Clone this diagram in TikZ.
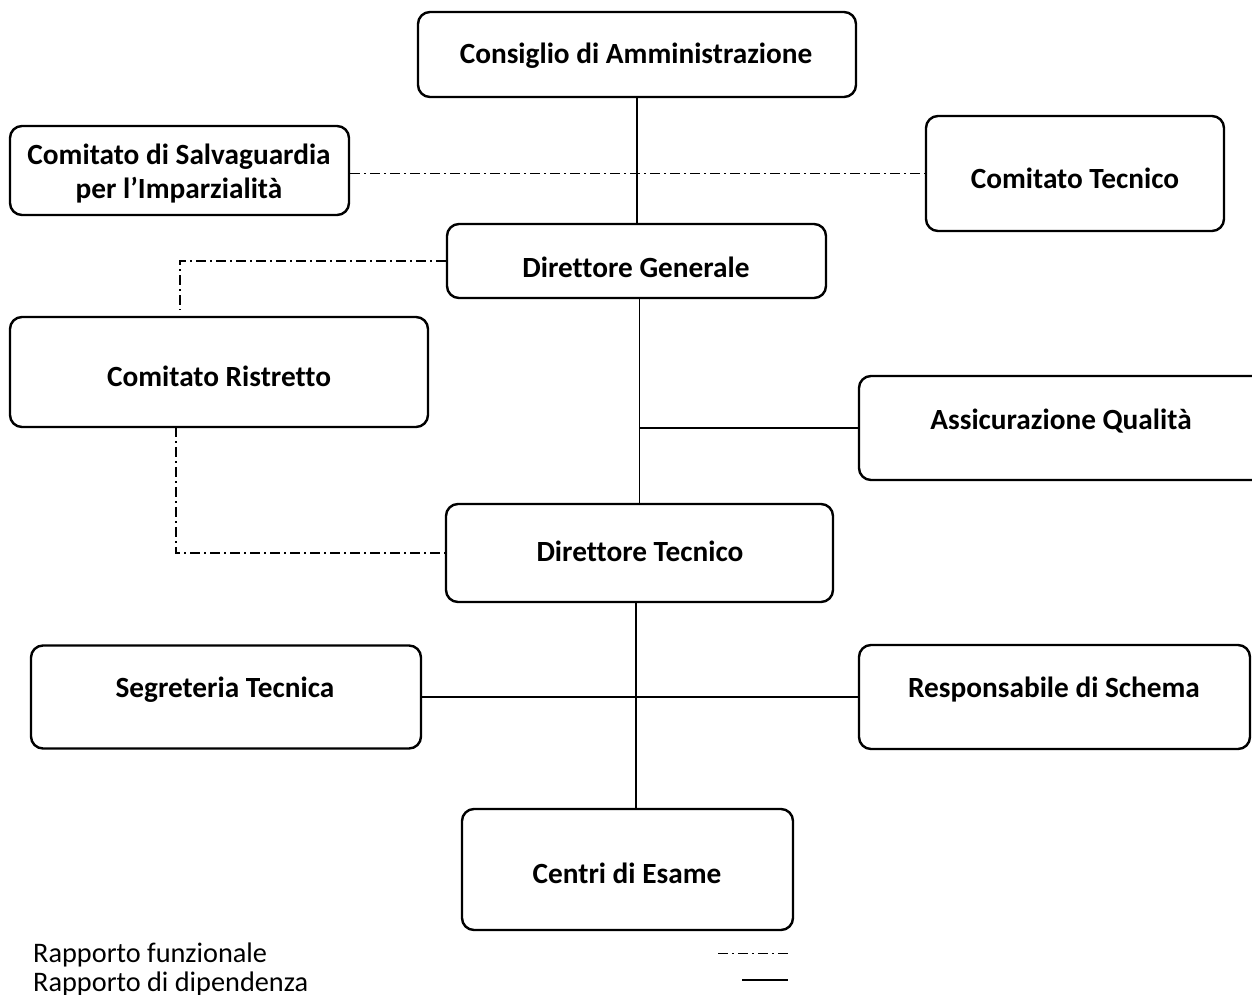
\documentclass[tikz,border=0pt]{standalone}
\usepackage{fontspec}
\setmainfont{Carlito}[Ligatures=NoCommon]
\begin{document}
\begin{tikzpicture}[x=1pt,y=-1pt,
  box/.style={draw=black, line width=2.4pt, rounded corners=12pt, inner sep=0pt, fill=white},
  lbl/.style={font=\fontsize{29.3}{33.5}\selectfont\bfseries, align=center, inner sep=0pt},
  leg/.style={font=\fontsize{28.3}{33}\selectfont, anchor=west, inner sep=0pt},
  dep/.style={draw=black, line width=1.7pt},
  func/.style={draw=black, line width=1.7pt, dash pattern=on 10pt off 4pt on 2pt off 4pt}]
\useasboundingbox (0,0) rectangle (1252,995);
\fill[white] (0,0) rectangle (1252,995);

% boxes
\node[box, minimum width=438pt, minimum height=85pt] (cda) at (637,54.5) {};
\node[lbl] at (636,56) {Consiglio di Amministrazione};
\node[box, minimum width=339pt, minimum height=89pt] (csi) at (179.5,170.5) {};
\node[lbl] at (179,173.5) {Comitato di Salvaguardia\\per l’Imparzialità};
\node[box, minimum width=298pt, minimum height=115pt] (ct) at (1075,173.5) {};
\node[lbl] at (1075,178) {Comitato Tecnico};
\node[box, minimum width=379pt, minimum height=74pt] (dg) at (636.5,261) {};
\node[lbl] at (636,267) {Direttore Generale};
\node[box, minimum width=418pt, minimum height=110pt] (cr) at (219,372) {};
\node[lbl] at (219,376) {Comitato Ristretto};
\node[box, minimum width=420pt, minimum height=104pt] (aq) at (1069,428) {};
\node[lbl] at (1061,421) {Assicurazione Qualità};
\node[box, minimum width=387pt, minimum height=98pt] (dt) at (639.5,553) {};
\node[lbl] at (640,551) {Direttore Tecnico};
\node[box, minimum width=390pt, minimum height=103pt] (st) at (226,697) {};
\node[lbl] at (225,690) {Segreteria Tecnica};
\node[box, minimum width=391pt, minimum height=104pt] (rs) at (1054.5,697) {};
\node[lbl] at (1054,690) {Responsabile di Schema};
\node[box, minimum width=331pt, minimum height=121pt] (ce) at (627.5,869.5) {};
\node[lbl] at (627,873) {Centri di Esame};

% helper coordinates
\coordinate (k1) at (180,310);
\coordinate (k2) at (176,427);
\coordinate (v) at (636,0);

% connectors
\draw[dep] (cda.south) -- (cda.south |- dg.north);
\draw[func] (csi.east |- ct.west) -- (ct.west);
\draw[func] (dg.west) -| (k1);
\draw[func] (k2) |- (dt.west);
\draw[dep] (dt.north |- dg.south) -- (dt.north);
\draw[dep] (aq.west) -- (aq.west -| dt.north);
\draw[dep] (dt.south -| v) -- (ce.north -| v);
\draw[dep] (st.east) -- (rs.west);

% legend
\node[leg] (l1) at (33,955) {Rapporto funzionale};
\node[leg] (l2) at (33,984) {Rapporto di dipendenza};
\coordinate (a1) at (718,953);
\coordinate (a2) at (790,953);
\coordinate (b1) at (742,980);
\coordinate (b2) at (788,980);
\draw[func, line width=1pt] (a1) -- (a2);
\draw[dep] (b1) -- (b2);
\end{tikzpicture}
\end{document}
